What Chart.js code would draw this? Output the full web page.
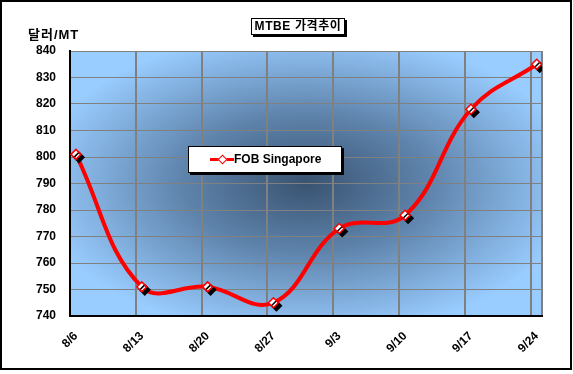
<!DOCTYPE html>
<html><head><meta charset="utf-8">
<script src="https://cdn.jsdelivr.net/npm/chart.js@4"></script>
<style>
html,body{margin:0;padding:0;background:#fff;}
#wrap{position:relative;width:573px;height:374px;overflow:hidden;background:#fff;}
#c{position:absolute;left:0;top:0;}
#frame{position:absolute;left:0;top:0;width:568px;height:366px;border:2px solid #000;pointer-events:none;}
#title{position:absolute;left:251px;top:18px;width:92px;height:15px;border:1px solid #000;box-shadow:2px 2px 0 #000;background:#fff;
  font:bold 12px "Liberation Sans","Noto Sans CJK KR",Arial,sans-serif;letter-spacing:0.6px;line-height:15px;text-align:center;color:#000;white-space:nowrap;}
#unit{position:absolute;left:28px;top:24px;font:bold 13px "Liberation Sans","Noto Sans CJK KR",Arial,sans-serif;letter-spacing:1px;color:#000;white-space:nowrap;}
#legend{position:absolute;left:188px;top:146px;width:152px;height:25px;border:1px solid #000;box-shadow:2px 2px 0 #000;background:#fff;}
#legend .ln{position:absolute;left:21px;top:11px;width:24px;height:3px;background:#f00;}
#legend .dm{position:absolute;left:30px;top:9px;width:5px;height:5px;background:#fff;border:1px solid #f00;transform:rotate(45deg);}
#legend .tx{position:absolute;left:45px;top:5px;font:bold 12px "Liberation Sans",Arial,sans-serif;color:#000;white-space:nowrap;}
</style>
</head><body>
<div id="wrap">
<canvas id="c" width="573" height="374"></canvas>
<div id="frame"></div>
<div id="unit">달러/MT</div>
<div id="title">MTBE 가격추이</div>
<div id="legend"><span class="ln"></span><span class="dm"></span><span class="tx">FOB Singapore</span></div>
</div>
<script>
const labels = ['8/6','8/13','8/20','8/27','9/3','9/10','9/17','9/24'];
const fobSingapore = [801, 751, 751, 745, 773, 778, 818, 835];
const yMin = 740, yMax = 840, yStep = 10;
const xMin = -0.09, xMax = 7.08;

const points = fobSingapore.map((v, i) => ({x: i, y: v}));

const bgPlugin = {
  id: 'bg',
  beforeDraw(chart) {
    const {ctx, chartArea: a} = chart;
    ctx.save();
    const cx = (a.left + a.right) / 2, cy = (a.top + a.bottom) / 2;
    const rx = (a.right - a.left) / 2, ry = (a.bottom - a.top) / 2;
    ctx.translate(cx, cy);
    ctx.scale(rx, ry);
    const g = ctx.createRadialGradient(0, 0, 0, 0, 0, 1.15);
    g.addColorStop(0, '#395371');
    g.addColorStop(0.45, '#5e83ab');
    g.addColorStop(1, '#99ccff');
    ctx.fillStyle = g;
    ctx.fillRect(-1, -1, 2, 2);
    ctx.restore();
  }
};

const shadowPlugin = {
  id: 'markerShadow',
  beforeDatasetDraw(chart, args) {
    if (args.index === 0) {
      const c = chart.ctx;
      c.save();
      c.shadowColor = '#000';
      c.shadowOffsetX = 3;
      c.shadowOffsetY = 3;
      c.shadowBlur = 0;
    }
  },
  afterDatasetDraw(chart, args) {
    if (args.index === 0) chart.ctx.restore();
  }
};

Chart.defaults.font.family = '"Liberation Sans", Arial, sans-serif';

new Chart(document.getElementById('c'), {
  type: 'line',
  data: {
    datasets: [
      {
        label: 'FOB Singapore markers',
        data: points,
        showLine: false,
        pointStyle: 'rectRot',
        pointRadius: 5,
        pointBackgroundColor: '#fff',
        pointBorderColor: '#f00',
        pointBorderWidth: 1.5
      },
      {
        label: 'FOB Singapore',
        data: points,
        borderColor: '#f00',
        borderWidth: 4,
        tension: 0.4,
        pointRadius: 0,
        fill: false
      }
    ]
  },
  options: {
    responsive: false,
    animation: false,
    devicePixelRatio: 1,
    layout: {padding: {top: 51, right: 31, bottom: 0, left: 0}},
    plugins: {legend: {display: false}, tooltip: {enabled: false}, title: {display: false}},
    scales: {
      x: {
        type: 'linear', position: 'bottom', min: xMin, max: xMax,
        afterBuildTicks(s) { s.ticks = labels.map((_, i) => ({value: i})); },
        afterFit(s) { s.height = 58; },
        ticks: {
          autoSkip: false, minRotation: 45, maxRotation: 45, padding: 13,
          color: '#000', font: {size: 12, weight: 'bold'},
          callback: (v) => labels[v]
        },
        grid: {display: false, drawTicks: false},
        border: {display: true, color: '#000', width: 2}
      },
      xg: {
        type: 'linear', position: 'top', min: xMin, max: xMax,
        afterBuildTicks(s) {
          const t = [];
          for (let k = 1; k < labels.length; k++) t.push({value: xMin + k});
          t.push({value: xMax});
          s.ticks = t;
        },
        afterFit(s) { s.height = 0; },
        ticks: {display: false},
        grid: {color: '#808080', lineWidth: 2, drawTicks: false},
        border: {display: false}
      },
      y: {
        min: yMin, max: yMax,
        afterFit(s) { s.width = 70; },
        ticks: {stepSize: yStep, padding: 14, color: '#000', font: {size: 12, weight: 'bold'}},
        grid: {color: '#808080', lineWidth: 1, drawTicks: false},
        border: {display: true, color: '#000', width: 2}
      }
    }
  },
  plugins: [bgPlugin, shadowPlugin]
});
</script>
</body></html>
